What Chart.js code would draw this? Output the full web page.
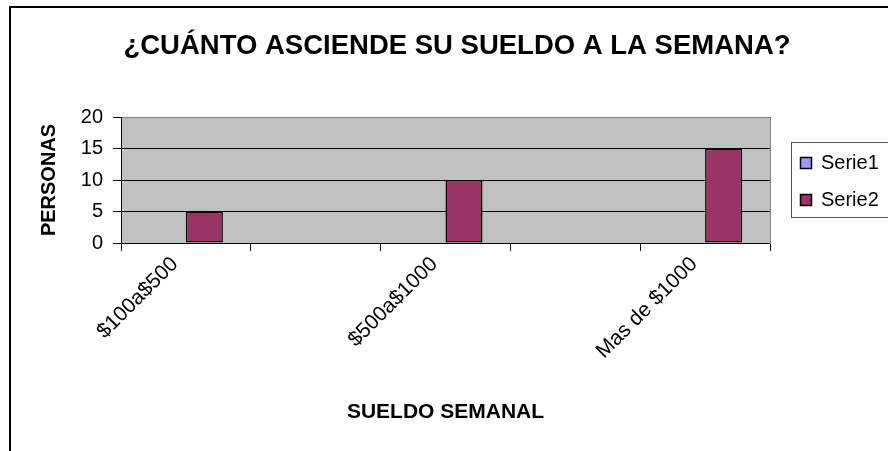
<!DOCTYPE html>
<html>
<head>
<meta charset="utf-8">
<script src="https://cdn.jsdelivr.net/npm/chart.js@4/dist/chart.umd.min.js"></script>
<style>
  html, body { margin: 0; padding: 0; background: #fff; }
  #wrap { width: 888px; height: 451px; }
</style>
</head>
<body>
<div id="wrap"><canvas id="sueldoChart" width="888" height="451"></canvas></div>
<script>
// datos del grafico
const categorias = ['$100a$500', '', '$500a$1000', '', 'Mas de $1000'];
const serie1 = [null, null, null, null, null];
const serie2 = [5, null, 10, null, 15];
const nombresSeries = ['Serie1', 'Serie2'];
const yMin = 0, yMax = 20, yPaso = 5;

Chart.defaults.font.family = 'Arial, "Liberation Sans", sans-serif';
Chart.defaults.color = '#000';

// fondo gris del area de trazado + marco exterior + leyenda
const fondoPlugin = {
    id: 'fondo',
    beforeDraw(chart) {
        const { ctx, chartArea: a } = chart;
        ctx.save();
        ctx.fillStyle = '#c0c0c0';
        ctx.fillRect(a.left, a.top, a.right - a.left, a.bottom - a.top);
        // marco exterior (recortado a la derecha y abajo)
        ctx.strokeStyle = '#000';
        ctx.lineWidth = 2;
        ctx.beginPath();
        ctx.moveTo(10, 451);
        ctx.lineTo(10, 7);
        ctx.lineTo(888, 7);
        ctx.stroke();
        ctx.restore();
    },
    afterDraw(chart) {
        const { ctx } = chart;
        ctx.save();
        ctx.strokeStyle = '#555';
        ctx.lineWidth = 1;
        ctx.strokeRect(791.5, 142.5, 110, 75);
        ctx.font = '20px Arial, "Liberation Sans", sans-serif';
        ctx.textBaseline = 'middle';
        chart.data.datasets.forEach((ds, i) => {
            const y = 163 + i * 37;
            ctx.fillStyle = ds.backgroundColor;
            ctx.fillRect(800.5, y - 5.5, 11, 11);
            ctx.strokeStyle = '#000';
            ctx.lineWidth = 1.5;
            ctx.strokeRect(800.5, y - 5.5, 11, 11);
            ctx.fillStyle = '#000';
            ctx.fillText(ds.label, 821, y);
        });
        ctx.restore();
    }
};

const chartArea = document.getElementById('sueldoChart').getContext('2d');
const myChart = new Chart(chartArea, {
    type: 'bar',
    data: {
        labels: categorias,
        datasets: [{
            label: nombresSeries[0],
            data: serie1,
            backgroundColor: '#9999ff',
            borderColor: '#000',
            borderWidth: 1.5,
            borderSkipped: false
        }, {
            label: nombresSeries[1],
            data: serie2,
            backgroundColor: '#993366',
            borderColor: '#000',
            borderWidth: 1.5,
            borderSkipped: false
        }]
    },
    options: {
        responsive: false,
        animation: false,
        categoryPercentage: 0.57,
        barPercentage: 1,
        layout: { padding: { left: 26, right: 0, top: 0, bottom: 0 } },
        plugins: {
            legend: { display: false },
            tooltip: { enabled: false },
            title: {
                display: true,
                text: '¿CUÁNTO ASCIENDE SU SUELDO A LA SEMANA?',
                color: '#000',
                font: { size: 27.5, weight: 'bold' },
                padding: { top: 30, bottom: 54 }
            }
        },
        scales: {
            x: {
                grid: {
                    offset: true,
                    drawOnChartArea: false,
                    color: '#000',
                    tickLength: 8
                },
                border: { color: '#000', width: 1 },
                ticks: {
                    autoSkip: false,
                    minRotation: 45,
                    maxRotation: 45,
                    padding: 1,
                    labelOffset: -11,
                    font: { size: 21 }
                },
                title: {
                    display: true,
                    text: 'SUELDO SEMANAL',
                    font: { size: 21, weight: 'bold' },
                    padding: { top: 0, bottom: 26 }
                },
                afterFit(scale) { scale.height = 208; }
            },
            y: {
                min: yMin,
                max: yMax,
                ticks: { stepSize: yPaso, padding: 10, font: { size: 20 } },
                grid: {
                    color: (c) => (c.tick && c.tick.value === yMax ? '#808080' : '#000'),
                    tickColor: '#000',
                    tickLength: 8
                },
                border: { color: '#000', width: 1 },
                title: {
                    display: true,
                    text: 'PERSONAS',
                    font: { size: 20, weight: 'bold' },
                    padding: { top: 11, bottom: 0 }
                },
                afterFit(scale) { scale.width = 95; }
            },
            y2: {
                position: 'right',
                min: 0,
                max: 1,
                ticks: { display: false },
                grid: { display: false },
                border: { display: true, color: '#808080', width: 1 },
                afterFit(scale) { scale.width = 118; }
            }
        }
    },
    plugins: [fondoPlugin]
});
</script>
</body>
</html>
